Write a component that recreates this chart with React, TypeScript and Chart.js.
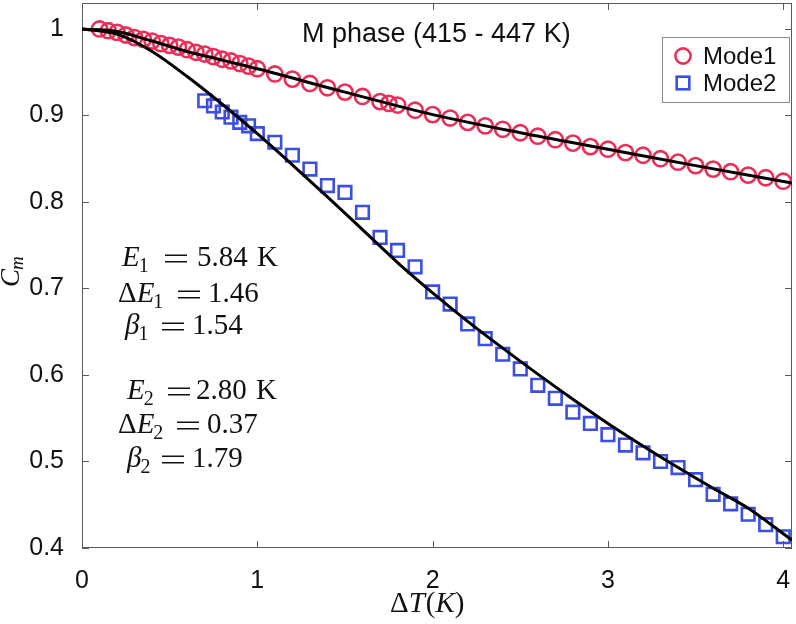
import React, { useEffect, useRef } from 'react';
import { Chart, registerables } from 'chart.js';
Chart.register(...registerables);

// ---------- data ----------
const mode1X = [0.1, 0.15, 0.2, 0.25, 0.3, 0.35, 0.4, 0.45, 0.5, 0.55, 0.6, 0.65, 0.7, 0.75, 0.8, 0.85, 0.9, 0.95, 1.0,
  1.1, 1.2, 1.3, 1.4, 1.5, 1.6, 1.7, 1.75, 1.8, 1.9, 2.0, 2.1, 2.2, 2.3, 2.4, 2.5, 2.6, 2.7, 2.8, 2.9, 3.0,
  3.1, 3.2, 3.3, 3.4, 3.5, 3.6, 3.7, 3.8, 3.9, 4.0];
const mode1Y = [1.000, 0.998, 0.996, 0.993, 0.990, 0.988, 0.986, 0.983, 0.981, 0.979, 0.976, 0.973, 0.971, 0.968, 0.965, 0.963, 0.960, 0.957, 0.954,
  0.948, 0.942, 0.937, 0.932, 0.927, 0.922, 0.916, 0.914, 0.912, 0.906, 0.901, 0.897, 0.892, 0.888, 0.884, 0.880, 0.876, 0.872, 0.868, 0.864, 0.861,
  0.857, 0.854, 0.850, 0.846, 0.842, 0.838, 0.835, 0.831, 0.828, 0.824];

const mode2X = [0.7, 0.75, 0.8, 0.85, 0.9, 0.95, 1.0, 1.1, 1.2, 1.3, 1.4, 1.5, 1.6, 1.7, 1.8, 1.9, 2.0, 2.1, 2.2, 2.3,
  2.4, 2.5, 2.6, 2.7, 2.8, 2.9, 3.0, 3.1, 3.2, 3.3, 3.4, 3.5, 3.6, 3.7, 3.8, 3.9, 4.0];
const mode2Y = [0.917, 0.911, 0.904, 0.898, 0.892, 0.888, 0.879, 0.869, 0.854, 0.838, 0.819, 0.811, 0.788, 0.759, 0.744, 0.725, 0.696, 0.682, 0.659, 0.642,
  0.624, 0.607, 0.588, 0.573, 0.557, 0.544, 0.531, 0.519, 0.510, 0.500, 0.493, 0.479, 0.462, 0.451, 0.439, 0.427, 0.413];

const fit1X = [0, 0.2, 0.4, 0.6, 0.8, 1.0, 1.5, 2.0, 2.5, 3.0, 3.5, 4.05];
const fit1Y = [1.000, 0.997, 0.986, 0.974, 0.964, 0.954, 0.927, 0.901, 0.880, 0.861, 0.842, 0.822];

const fit2X = [0, 0.2, 0.4, 0.6, 0.8, 1.0, 1.2, 1.4, 1.6, 1.8, 2.0, 2.2, 2.4, 2.6, 2.8, 3.0, 3.2, 3.4, 3.6, 3.8, 4.05];
const fit2Y = [1.000, 0.994, 0.974, 0.945, 0.913, 0.879, 0.843, 0.806, 0.768, 0.730, 0.695, 0.662, 0.631, 0.601, 0.572, 0.544, 0.518, 0.493, 0.469, 0.446, 0.409];

const xTicks = [0, 1, 2, 3, 4];
const xTickLabels = ['0', '1', '2', '3', '4'];
const yTicks = [0.4, 0.5, 0.6, 0.7, 0.8, 0.9, 1.0];
const yTickLabels = ['0.4', '0.5', '0.6', '0.7', '0.8', '0.9', '1'];

const seriesNames = ['Mode1', 'Mode2'];
const titleText = 'M phase (415 - 447 K)';

// annotation contents
const annDelta = [false, true, false, false, true, false];
const annSym = ['E', 'E', 'β', 'E', 'E', 'β'];
const annSub = ['1', '1', '1', '2', '2', '2'];
const annVal = ['5.84', '1.46', '1.54', '2.80', '0.37', '1.79'];
const annUnit = ['K', '', '', 'K', '', ''];

const RED = '#EA2F58';
const BLUE = '#3D4EE3';
const SANS = '"Liberation Sans", Arial, Helvetica, sans-serif';
const SERIF = '"Liberation Serif", "Times New Roman", serif';

const pts = (xs: number[], ys: number[]) => xs.map((x, i) => ({ x, y: ys[i] }));

// layout of annotations (pixel positions of text)
const annX = [122, 118, 125, 127, 118, 127];
const annBase = [266, 302, 334, 399, 433, 467];
const annEqX = [165, 178, 162, 168, 177, 162];
const annValX = [197, 208, 192, 196, 207, 192];
const annUnitX = [257, 0, 0, 256, 0, 0];

const decor = {
  id: 'decor',
  beforeDatasetsDraw(chart: any) {
    const { ctx, chartArea: a, scales } = chart;
    const xs = scales.x, ys = scales.y;
    ctx.save();
    ctx.strokeStyle = '#5a5a5a';
    ctx.lineWidth = 1;
    ctx.strokeRect(a.left + 0.5, a.top + 0.5, a.right - a.left - 1, a.bottom - a.top - 1);
    ctx.beginPath();
    const tl = 7;
    xTicks.forEach(v => {
      const px = Math.round(xs.getPixelForValue(v)) + 0.5;
      ctx.moveTo(px, a.bottom); ctx.lineTo(px, a.bottom - tl);
      ctx.moveTo(px, a.top); ctx.lineTo(px, a.top + tl);
    });
    yTicks.forEach(v => {
      const py = Math.round(ys.getPixelForValue(v)) + 0.5;
      ctx.moveTo(a.left, py); ctx.lineTo(a.left + tl, py);
      ctx.moveTo(a.right, py); ctx.lineTo(a.right - tl, py);
    });
    ctx.stroke();
    ctx.restore();
  },
  afterDraw(chart: any) {
    const { ctx } = chart;
    ctx.save();
    ctx.fillStyle = '#111';
    ctx.textBaseline = 'alphabetic';
    ctx.textAlign = 'left';

    // title
    ctx.font = `27px ${SANS}`;
    ctx.fillText(titleText, 302, 42);

    // legend
    const lx0 = 662, ly0 = 37, lx1 = 790, ly1 = 103;
    ctx.fillStyle = '#fff';
    ctx.fillRect(lx0, ly0, lx1 - lx0, ly1 - ly0);
    ctx.strokeStyle = '#8a8a8a';
    ctx.lineWidth = 1;
    ctx.strokeRect(lx0 + 0.5, ly0 + 0.5, lx1 - lx0 - 1, ly1 - ly0 - 1);
    ctx.lineWidth = 2.6;
    ctx.strokeStyle = RED;
    ctx.beginPath(); ctx.arc(683, 56, 7.6, 0, Math.PI * 2); ctx.stroke();
    ctx.strokeStyle = BLUE;
    ctx.strokeRect(683 - 6.3, 83 - 6.3, 12.6, 12.6);
    ctx.fillStyle = '#111';
    ctx.font = `24px ${SANS}`;
    ctx.textBaseline = 'middle';
    ctx.fillText(seriesNames[0], 703, 57);
    ctx.fillText(seriesNames[1], 703, 84);
    ctx.textBaseline = 'alphabetic';

    // annotations
    for (let i = 0; i < annSym.length; i++) {
      let cx = annX[i];
      const b = annBase[i];
      if (annDelta[i]) {
        ctx.font = `29px ${SERIF}`;
        ctx.fillText('Δ', cx, b);
        cx += ctx.measureText('Δ').width;
      }
      ctx.font = `italic 29px ${SERIF}`;
      ctx.fillText(annSym[i], cx, b);
      cx += ctx.measureText(annSym[i]).width;
      ctx.font = `20px ${SERIF}`;
      ctx.fillText(annSub[i], cx - 1, b + 6);
      ctx.fillRect(annEqX[i], b - 11.5, 22, 1.5);
      ctx.fillRect(annEqX[i], b - 5, 22, 1.5);
      ctx.font = `29px ${SERIF}`;
      ctx.fillText(annVal[i], annValX[i], b);
      if (annUnit[i]) ctx.fillText(annUnit[i], annUnitX[i], b);
    }

    // x axis title: ΔT(K)
    {
      let cx = 390;
      const b = 612;
      const parts: [string, boolean][] = [['Δ', false], ['T', true], ['(', false], ['K', true], [')', false]];
      parts.forEach(([t, it]) => {
        ctx.font = `${it ? 'italic ' : ''}29px ${SERIF}`;
        ctx.fillText(t, cx, b);
        cx += ctx.measureText(t).width + (t === 'T' ? 1 : 0);
      });
    }

    // y axis title: C_m
    ctx.save();
    ctx.translate(19, 287);
    ctx.rotate(-Math.PI / 2);
    ctx.font = `italic 27px ${SERIF}`;
    ctx.fillText('C', 0, 0);
    const cw = ctx.measureText('C').width;
    ctx.font = `italic 19px ${SERIF}`;
    ctx.fillText('m', cw - 1, 4);
    ctx.restore();

    ctx.restore();
  },
};

export default function App() {
  const ref = useRef<HTMLCanvasElement | null>(null);
  useEffect(() => {
    document.body.style.margin = '0';
    const canvas = ref.current;
    if (!canvas) return;
    const chart = new Chart(canvas, {
      type: 'scatter',
      data: {
        datasets: [
          {
            label: 'fit1', data: pts(fit1X, fit1Y), showLine: true, pointRadius: 0,
            borderColor: '#000', borderWidth: 3, cubicInterpolationMode: 'monotone', order: 1,
          },
          {
            label: 'fit2', data: pts(fit2X, fit2Y), showLine: true, pointRadius: 0,
            borderColor: '#000', borderWidth: 3, cubicInterpolationMode: 'monotone', order: 1,
          },
          {
            label: seriesNames[0], data: pts(mode1X, mode1Y), showLine: false,
            pointStyle: 'circle', pointRadius: 7.6, borderWidth: 2.6, borderColor: RED,
            backgroundColor: 'rgba(0,0,0,0)', order: 2,
          },
          {
            label: seriesNames[1], data: pts(mode2X, mode2Y), showLine: false,
            pointStyle: 'rect', pointRadius: 8.9, borderWidth: 2.6, borderColor: BLUE,
            backgroundColor: 'rgba(0,0,0,0)', order: 2,
          },
        ],
      } as any,
      options: {
        responsive: false,
        animation: false,
        events: [],
        layout: { autoPadding: false, padding: { left: 0, right: 4, top: 3, bottom: 0 } },
        plugins: { legend: { display: false }, tooltip: { enabled: false }, title: { display: false } },
        scales: {
          x: {
            type: 'linear', min: 0, max: 4.05,
            afterBuildTicks: (s: any) => { s.ticks = xTicks.map(v => ({ value: v })); },
            afterFit: (s: any) => { s.height = 76; s.paddingLeft = 0; s.paddingRight = 0; },
            grid: { display: false }, border: { display: false },
            ticks: {
              font: { family: SANS, size: 25 }, color: '#111', padding: 10, maxRotation: 0, autoSkip: false,
              callback: (_v: any, i: number) => xTickLabels[i],
            },
          },
          y: {
            type: 'linear', min: 0.4, max: 1.03,
            afterBuildTicks: (s: any) => { s.ticks = yTicks.map(v => ({ value: v })); },
            afterFit: (s: any) => { s.width = 82; s.paddingTop = 0; s.paddingBottom = 0; },
            grid: { display: false }, border: { display: false },
            ticks: {
              font: { family: SANS, size: 25 }, color: '#111', padding: 10, autoSkip: false,
              callback: (_v: any, i: number) => yTickLabels[i],
            },
          },
        },
      } as any,
      plugins: [decor],
    });
    return () => chart.destroy();
  }, []);
  return (
    <div style={{ width: 796, height: 624, position: 'relative', background: '#fff' }}>
      <canvas ref={ref} width={796} height={624} style={{ display: 'block', width: 796, height: 624 }} />
    </div>
  );
}
